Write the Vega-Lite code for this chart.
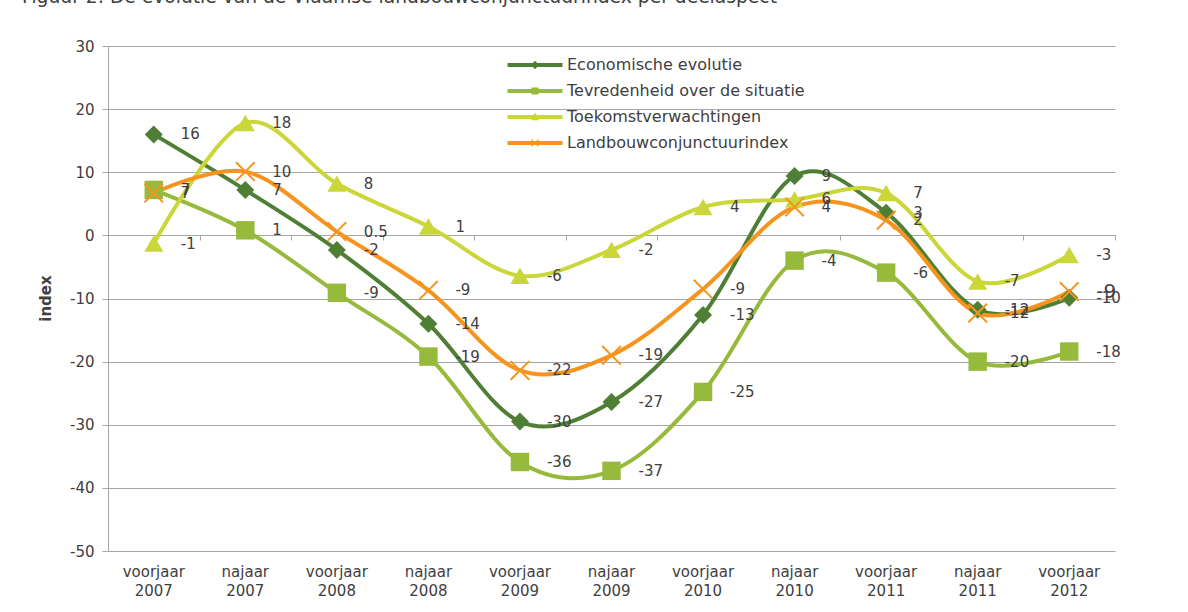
{
  "$schema": "https://vega.github.io/schema/vega-lite/v6.json",
  "width": 1007,
  "height": 505,
  "autosize": {"type": "none"},
  "padding": {"left": 108, "top": 46, "right": 73, "bottom": 61},
  "background": "white",
  "title": {
    "text": "Figuur 2: De evolutie van de Vlaamse landbouwconjunctuurindex per deelaspect",
    "anchor": "start", "frame": "group", "offset": 17.5, "dx": -86,
    "fontSize": 18.7, "fontWeight": "normal", "color": "#404040", "font": "DejaVu Sans", "baseline": "alphabetic"
  },
  "data": {"values": [
    {"period": "voorjaar 2007", "series": "Economische evolutie", "value": 16.0, "label": "16"},
    {"period": "najaar 2007", "series": "Economische evolutie", "value": 7.2, "label": "7"},
    {"period": "voorjaar 2008", "series": "Economische evolutie", "value": -2.3, "label": "-2"},
    {"period": "najaar 2008", "series": "Economische evolutie", "value": -14.0, "label": "-14"},
    {"period": "voorjaar 2009", "series": "Economische evolutie", "value": -29.5, "label": "-30"},
    {"period": "najaar 2009", "series": "Economische evolutie", "value": -26.4, "label": "-27"},
    {"period": "voorjaar 2010", "series": "Economische evolutie", "value": -12.6, "label": "-13"},
    {"period": "najaar 2010", "series": "Economische evolutie", "value": 9.4, "label": "9"},
    {"period": "voorjaar 2011", "series": "Economische evolutie", "value": 3.6, "label": "3"},
    {"period": "najaar 2011", "series": "Economische evolutie", "value": -11.8, "label": "-12"},
    {"period": "voorjaar 2012", "series": "Economische evolutie", "value": -9.9, "label": "-10"},
    {"period": "voorjaar 2007", "series": "Tevredenheid over de situatie", "value": 7.2, "label": "7"},
    {"period": "najaar 2007", "series": "Tevredenheid over de situatie", "value": 0.8, "label": "1"},
    {"period": "voorjaar 2008", "series": "Tevredenheid over de situatie", "value": -9.1, "label": "-9"},
    {"period": "najaar 2008", "series": "Tevredenheid over de situatie", "value": -19.2, "label": "-19"},
    {"period": "voorjaar 2009", "series": "Tevredenheid over de situatie", "value": -35.9, "label": "-36"},
    {"period": "najaar 2009", "series": "Tevredenheid over de situatie", "value": -37.3, "label": "-37"},
    {"period": "voorjaar 2010", "series": "Tevredenheid over de situatie", "value": -24.8, "label": "-25"},
    {"period": "najaar 2010", "series": "Tevredenheid over de situatie", "value": -4.0, "label": "-4"},
    {"period": "voorjaar 2011", "series": "Tevredenheid over de situatie", "value": -5.9, "label": "-6"},
    {"period": "najaar 2011", "series": "Tevredenheid over de situatie", "value": -20.0, "label": "-20"},
    {"period": "voorjaar 2012", "series": "Tevredenheid over de situatie", "value": -18.4, "label": "-18"},
    {"period": "voorjaar 2007", "series": "Toekomstverwachtingen", "value": -1.3, "label": "-1"},
    {"period": "najaar 2007", "series": "Toekomstverwachtingen", "value": 17.8, "label": "18"},
    {"period": "voorjaar 2008", "series": "Toekomstverwachtingen", "value": 8.2, "label": "8"},
    {"period": "najaar 2008", "series": "Toekomstverwachtingen", "value": 1.4, "label": "1"},
    {"period": "voorjaar 2009", "series": "Toekomstverwachtingen", "value": -6.4, "label": "-6"},
    {"period": "najaar 2009", "series": "Toekomstverwachtingen", "value": -2.3, "label": "-2"},
    {"period": "voorjaar 2010", "series": "Toekomstverwachtingen", "value": 4.5, "label": "4"},
    {"period": "najaar 2010", "series": "Toekomstverwachtingen", "value": 5.7, "label": "6"},
    {"period": "voorjaar 2011", "series": "Toekomstverwachtingen", "value": 6.7, "label": "7"},
    {"period": "najaar 2011", "series": "Toekomstverwachtingen", "value": -7.3, "label": "-7"},
    {"period": "voorjaar 2012", "series": "Toekomstverwachtingen", "value": -3.1, "label": "-3"},
    {"period": "voorjaar 2007", "series": "Landbouwconjunctuurindex", "value": 6.7, "label": "7"},
    {"period": "najaar 2007", "series": "Landbouwconjunctuurindex", "value": 10.1, "label": "10"},
    {"period": "voorjaar 2008", "series": "Landbouwconjunctuurindex", "value": 0.6, "label": "0.5"},
    {"period": "najaar 2008", "series": "Landbouwconjunctuurindex", "value": -8.7, "label": "-9"},
    {"period": "voorjaar 2009", "series": "Landbouwconjunctuurindex", "value": -21.4, "label": "-22"},
    {"period": "najaar 2009", "series": "Landbouwconjunctuurindex", "value": -19.0, "label": "-19"},
    {"period": "voorjaar 2010", "series": "Landbouwconjunctuurindex", "value": -8.5, "label": "-9"},
    {"period": "najaar 2010", "series": "Landbouwconjunctuurindex", "value": 4.5, "label": "4"},
    {"period": "voorjaar 2011", "series": "Landbouwconjunctuurindex", "value": 2.4, "label": "2"},
    {"period": "najaar 2011", "series": "Landbouwconjunctuurindex", "value": -12.3, "label": "-12"},
    {"period": "voorjaar 2012", "series": "Landbouwconjunctuurindex", "value": -8.9, "label": "-9"}
  ]},
  "layer": [
    {
      "mark": {"type": "line", "interpolate": "cardinal", "strokeWidth": 4, "strokeCap": "round", "strokeJoin": "round"},
      "encoding": {
        "x": {
          "field": "period", "type": "nominal", "sort": null, "bandPosition": 0.5,
          "scale": {"type": "band", "paddingInner": 0, "paddingOuter": 0,
            "domain": ["voorjaar 2007", "najaar 2007", "voorjaar 2008", "najaar 2008", "voorjaar 2009", "najaar 2009", "voorjaar 2010", "najaar 2010", "voorjaar 2011", "najaar 2011", "voorjaar 2012"]},
          "axis": {"title": null, "domain": false, "ticks": false, "grid": false, "labelAngle": 0,
            "labelExpr": "split(datum.label, ' ')", "labelFontSize": 15, "labelColor": "#404040", "labelFont": "DejaVu Sans",
            "labelPadding": 13, "labelLineHeight": 19, "labelBaseline": "top"}
        },
        "y": {
          "field": "value", "type": "quantitative",
          "scale": {"domain": [-50, 30], "nice": false, "zero": false},
          "axis": {"title": "index", "titleFontWeight": "bold", "titleFontSize": 15, "titleColor": "#404040", "titleFont": "DejaVu Sans",
            "titleX": -63, "titleY": 252, "titleAngle": -90, "titleBaseline": "middle", "titleAlign": "center",
            "values": [-50, -40, -30, -20, -10, 0, 10, 20, 30], "labelExpr": "datum.value + ''",
            "grid": true, "gridColor": "#A6A6A6", "domainColor": "#A6A6A6",
            "tickColor": "#A6A6A6", "tickSize": 6, "labelPadding": 8, "labelFontSize": 15, "labelColor": "#404040", "labelFont": "DejaVu Sans"}
        },
        "color": {
          "field": "series", "type": "nominal",
          "scale": {"domain": ["Economische evolutie", "Tevredenheid over de situatie", "Toekomstverwachtingen", "Landbouwconjunctuurindex"],
            "range": ["#4F7F34", "#97BA3C", "#CBD639", "#F7941E"]},
          "legend": {
            "title": null, "orient": "none", "legendX": 416, "legendY": 8, "padding": 0, "rowPadding": 7,
            "symbolSize": 484, "labelOffset": 21, "labelFontSize": 16, "labelColor": "#404040", "labelFont": "DejaVu Sans", "labelLimit": 400,
            "encode": {"symbols": {"update": {
              "shape": {"signal": "datum.value === 'Economische evolutie' ? 'M-2.5,-0.19L2.5,-0.19L2.5,0.19L-2.5,0.19Z M0,-0.38L0.38,0L0,0.38L-0.38,0Z' : datum.value === 'Tevredenheid over de situatie' ? 'M-2.5,-0.19L2.5,-0.19L2.5,0.19L-2.5,0.19Z M-0.32,-0.32L0.32,-0.32L0.32,0.32L-0.32,0.32Z' : datum.value === 'Toekomstverwachtingen' ? 'M-2.5,-0.19L2.5,-0.19L2.5,0.19L-2.5,0.19Z M0,-0.4L0.38,0.3L-0.38,0.3Z' : 'M-2.5,-0.19L2.5,-0.19L2.5,0.19L-2.5,0.19Z M-0.35,-0.28L-0.28,-0.35L0,-0.07L0.28,-0.35L0.35,-0.28L0.07,0L0.35,0.28L0.28,0.35L0,0.07L-0.28,0.35L-0.35,0.28L-0.07,0Z'"},
              "fill": {"scale": "color", "field": "value"},
              "fillOpacity": {"value": 1},
              "opacity": {"value": 1},
              "stroke": {"value": "transparent"},
              "strokeWidth": {"value": 0},
              "size": {"value": 484}
            }}}
          }
        }
      }
    },
    {
      "transform": [{"filter": "datum.series === 'Economische evolutie'"}],
      "mark": {"type": "point", "filled": true, "opacity": 1, "shape": "diamond", "size": 324},
      "encoding": {
        "x": {
          "field": "period", "type": "nominal", "sort": null, "bandPosition": 0.5,
          "axis": {"title": null, "orient": "bottom", "offset": -316, "labels": false, "domain": false, "grid": false,
            "ticks": true, "tickBand": "extent", "tickSize": 5, "tickColor": "#A6A6A6"}
        },
        "y": {"field": "value", "type": "quantitative"},
        "color": {"field": "series", "type": "nominal"}
      }
    },
    {
      "transform": [{"filter": "datum.series === 'Tevredenheid over de situatie'"}],
      "mark": {"type": "point", "filled": true, "opacity": 1, "shape": "square", "size": 340},
      "encoding": {
        "x": {"field": "period", "type": "nominal", "sort": null, "bandPosition": 0.5, "axis": null},
        "y": {"field": "value", "type": "quantitative"},
        "color": {"field": "series", "type": "nominal"}
      }
    },
    {
      "transform": [{"filter": "datum.series === 'Toekomstverwachtingen'"}],
      "mark": {"type": "point", "filled": true, "opacity": 1, "shape": "triangle-up", "size": 361},
      "encoding": {
        "x": {"field": "period", "type": "nominal", "sort": null, "bandPosition": 0.5, "axis": null},
        "y": {"field": "value", "type": "quantitative"},
        "color": {"field": "series", "type": "nominal"}
      }
    },
    {
      "transform": [{"filter": "datum.series === 'Landbouwconjunctuurindex'"}],
      "mark": {"type": "point", "filled": true, "opacity": 1, "size": 400,
        "shape": "M-1,-0.86L-0.86,-1L0,-0.14L0.86,-1L1,-0.86L0.14,0L1,0.86L0.86,1L0,0.14L-0.86,1L-1,0.86L-0.14,0Z"},
      "encoding": {
        "x": {"field": "period", "type": "nominal", "sort": null, "bandPosition": 0.5, "axis": null},
        "y": {"field": "value", "type": "quantitative"},
        "color": {"field": "series", "type": "nominal"}
      }
    },
    {
      "mark": {"type": "text", "align": "left", "baseline": "middle", "dx": 27, "font": "DejaVu Sans", "color": "#404040"},
      "encoding": {
        "x": {"field": "period", "type": "nominal", "sort": null, "bandPosition": 0.5, "axis": null},
        "y": {"field": "value", "type": "quantitative"},
        "text": {"field": "label"},
        "size": {"condition": {"test": "datum.series === 'Landbouwconjunctuurindex' && datum.period === 'voorjaar 2012'", "value": 20}, "value": 15}
      }
    }
  ],
  "resolve": {"axis": {"x": "independent"}},
  "config": {
    "view": {"stroke": null},
    "font": "DejaVu Sans"
  }
}
